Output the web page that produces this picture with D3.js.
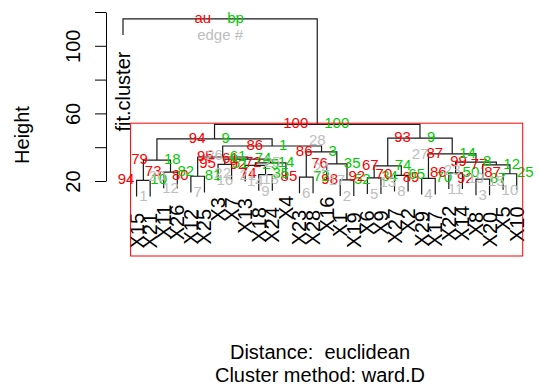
<!DOCTYPE html>
<html>
<head>
<meta charset="utf-8">
<script src="https://cdn.jsdelivr.net/npm/d3@7"></script>
<style>
body { margin: 0; background: #fff; }
text { font-family: "Liberation Sans", Arial, sans-serif; }
</style>
</head>
<body>
<div id="chart"></div>
<script>
// leaves in plotted order
const leafLabels = ["fit.cluster",
  "X15", "X21", "X11", "X26", "X12", "X25", "X3", "X7", "X13", "X18",
  "X24", "X4", "X23", "X28", "X16", "X1", "X19", "X6", "X9", "X27",
  "X2", "X29", "X17", "X22", "X14", "X8", "X20", "X5", "X10"];
// hclust style merges: negative = leaf (1-based in leafLabels), positive = merge row
const mergeLeft  = [-2, -17, -27, -23, -19, -14, -6, -21, -11, -29, -25, -4,
  5, -10, 3, -8, -16, 14, 11, 1, 16, 7, 4, 6, 22, 20, 13, 26, -1];
const mergeRight = [-3, -18, -28, -24, -20, -15, -7, -22, -12, -30, -26, -5,
  8, 9, 10, -9, 2, -13, 15, 12, 18, 21, 19, 17, 24, 25, 23, 27, 28];
const heights = [20.4, 20.7, 21.1, 21.5, 21.9, 22.3, 22.8, 23.3, 23.8, 24.3, 24.8, 25.3,
  28.9, 29.2, 29.5, 29.8, 30.1, 30.7, 31.2, 32.4, 33.0, 34.2, 36.0, 37.2,
  40.7, 44.9, 45.4, 53.5, 115.9];
const auValues = [94, 98, 92, 89, 92, 85, 80, 70, 74, 87, 86, 73,
  67, 92, 77, 95, 76, 72, 99, 79, 61, 95, 87, 86, 86, 94, 93, 100, 100];
const bpValues = [10, 52, 87, 70, 34, 72, 81, 65, 35, 25, 50, 82,
  74, 25, 12, 51, 35, 14, 8, 18, 74, 61, 14, 3, 1, 9, 9, 100, 100];
const yTicks = [20, 40, 60, 80, 100, 120];
const yTickLabels = ["20", "", "60", "", "100", ""];

const width = 539, height = 389;
const svg = d3.select('#chart').append('svg')
  .attr('width', width)
  .attr('height', height);

const x = d3.scalePoint().domain(leafLabels).range([123, 516.7]);
const y = d3.scaleLinear().domain([20, 120]).range([181, 12]);
const hang = 0.1 * (d3.max(heights) - d3.min(heights));
const n = heights.length;

// node positions, R style: node sits over the middle of its two children
const nodeX = [];
const posX = k => k < 0 ? x(leafLabels[-k - 1]) : nodeX[k - 1];
const posY = (k, i) => k < 0 ? y(heights[i] - hang) : y(heights[k - 1]);
for (let i = 0; i < n; i++) {
  nodeX[i] = (posX(mergeLeft[i]) + posX(mergeRight[i])) / 2;
}

const tree = svg.append('g');
const leafBottom = {};
for (let i = 0; i < n; i++) {
  const xl = posX(mergeLeft[i]), xr = posX(mergeRight[i]);
  const yl = posY(mergeLeft[i], i), yr = posY(mergeRight[i], i);
  const yi = y(heights[i]);
  tree.append('path')
    .attr('d', `M${xl},${yl}V${yi}H${xr}V${yr}`)
    .attr('fill', 'none')
    .attr('stroke', '#1a1a1a')
    .attr('stroke-width', 1.2);
  [mergeLeft[i], mergeRight[i]].forEach(k => { if (k < 0) leafBottom[-k - 1] = y(heights[i] - hang); });
}

// leaf labels, reading upward, ending just under the leaf
svg.append('g').selectAll('text')
  .data(leafLabels)
  .enter()
  .append('text')
  .attr('transform', (d, i) => `translate(${x(d)},${leafBottom[i] + 16.5}) rotate(-90)`)
  .attr('text-anchor', 'end')
  .attr('dy', '0.35em')
  .attr('font-size', 20)
  .attr('fill', '#000')
  .text(d => d);

// au / bp / edge numbers
const pv = svg.append('g').attr('font-size', 15);
for (let i = 0; i < n; i++) {
  const last = i === n - 1;
  const xi = nodeX[i], yi = y(heights[i]);
  pv.append('text').attr('x', xi - 9).attr('y', yi + 3.7)
    .attr('text-anchor', 'end').attr('fill', '#FF0000')
    .text(last ? 'au' : auValues[i]);
  pv.append('text').attr('x', xi + 7).attr('y', yi + 3.7)
    .attr('fill', '#00CD00')
    .text(last ? 'bp' : bpValues[i]);
  pv.append('text').attr('x', xi).attr('y', yi + 21)
    .attr('text-anchor', 'middle').attr('fill', '#BEBEBE')
    .text(last ? 'edge #' : i + 1);
}

// pvrect: largest clusters with au >= 95
const members = k => k < 0 ? [-k - 1] : members(mergeLeft[k - 1]).concat(members(mergeRight[k - 1]));
let used = [];
for (let i = n - 2; i >= 0; i--) {
  if (auValues[i] < 95) continue;
  const m = members(i + 1);
  if (m.some(v => used.includes(v))) continue;
  const xs = m.map(v => x(leafLabels[v]));
  svg.append('rect')
    .attr('x', d3.min(xs) - 6)
    .attr('y', y(heights[i]) - 1.2)
    .attr('width', d3.max(xs) - d3.min(xs) + 12)
    .attr('height', 256 - y(heights[i]) + 1.2)
    .attr('fill', 'none')
    .attr('stroke', '#FF0000')
    .attr('stroke-width', 1);
  used = used.concat(m);
}

// y axis
const axis = svg.append('g')
  .attr('transform', 'translate(106,0)')
  .call(d3.axisLeft(y).tickValues(yTicks).tickSize(11).tickSizeOuter(0)
    .tickFormat((d, i) => yTickLabels[i]));
axis.select('.domain').attr('stroke', '#000');
axis.selectAll('.tick line').attr('stroke', '#000');
axis.selectAll('.tick text')
  .attr('transform', 'rotate(-90)')
  .attr('x', 0).attr('y', -26).attr('dy', null)
  .attr('text-anchor', 'middle')
  .attr('fill', '#000')
  .attr('font-size', 20)
  .attr('font-family', '"Liberation Sans", Arial, sans-serif');

svg.append('text')
  .attr('transform', 'translate(29,135) rotate(-90)')
  .attr('text-anchor', 'middle')
  .attr('font-size', 20)
  .text('Height');

svg.append('text')
  .attr('x', 320).attr('y', 359)
  .attr('text-anchor', 'middle')
  .attr('font-size', 20)
  .style('white-space', 'pre')
  .text('Distance:  euclidean');
svg.append('text')
  .attr('x', 320).attr('y', 382)
  .attr('text-anchor', 'middle')
  .attr('font-size', 20)
  .text('Cluster method: ward.D');
</script>
</body>
</html>
